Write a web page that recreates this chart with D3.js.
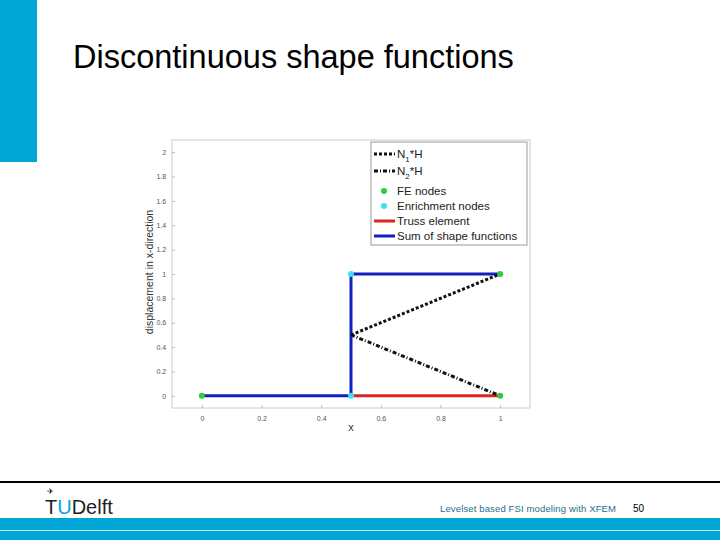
<!DOCTYPE html>
<html><head><meta charset="utf-8">
<script src="https://cdn.jsdelivr.net/npm/d3@7"></script>
<style>body{margin:0;background:#fff}svg{display:block}</style></head>
<body><svg id="c" width="720" height="540"></svg>
<script>
const xTicks=[0,0.2,0.4,0.6,0.8,1];
const yTicks=[0,0.2,0.4,0.6,0.8,1,1.2,1.4,1.6,1.8,2];
const n1X=[0.5,1], n1Y=[0.5,1];
const n2X=[0.5,1], n2Y=[0.5,0];
const feX=[0,1,1], feY=[0,0,1];
const enX=[0.5,0.5], enY=[0,1];
const trussX=[0.5,1], trussY=[0,0];
const sumX=[0,0.5,0.5,1], sumY=[0,0,1,1];
const legendLabels=["N1*H","N2*H","FE nodes","Enrichment nodes","Truss element","Sum of shape functions"];

const svg=d3.select("#c");
const F="Liberation Sans, Arial";
svg.append("rect").attr("x",0).attr("y",0).attr("width",37).attr("height",162).attr("fill","#00a6d6");
svg.append("text").attr("x",73).attr("y",68).attr("font-family",F).attr("font-size",32.5).text("Discontinuous shape functions");
// footer
svg.append("rect").attr("x",0).attr("y",481).attr("width",720).attr("height",2).attr("fill","#000");
svg.append("rect").attr("x",0).attr("y",518).attr("width",720).attr("height",22).attr("fill","#00a6d6");
svg.append("rect").attr("x",0).attr("y",530).attr("width",720).attr("height",1).attr("fill","#cdeef7");
svg.append("text").attr("x",45).attr("y",514).attr("font-family",F).attr("font-size",20).attr("fill","#222").html('T<tspan fill="#00a6d6">U</tspan>Delft');
svg.append("text").attr("x",47).attr("y",494).attr("font-size",8).text("✈");
svg.append("text").attr("x",616).attr("y",512).attr("text-anchor","end").attr("font-family",F).attr("font-size",9.5).attr("textLength",176).attr("fill","#1d6f8a").text("Levelset based FSI modeling with XFEM");
svg.append("text").attr("x",633).attr("y",512).attr("font-family",F).attr("font-size",10).text("50");

const L=172,R=530,T=140,B=408;
const x=d3.scaleLinear().domain([-0.1,1.1]).range([L,R]);
const y=d3.scaleLinear().domain([-0.1,2.1]).range([B,T]);
svg.append("rect").attr("x",L).attr("y",T).attr("width",R-L).attr("height",B-T).attr("fill","none").attr("stroke","#ccc");
const gx=svg.append("g").attr("transform",`translate(0,${B})`).call(d3.axisBottom(x).tickValues(xTicks).tickSize(-3).tickFormat(d3.format("")));
const gy=svg.append("g").attr("transform",`translate(${L},0)`).call(d3.axisLeft(y).tickValues(yTicks).tickSize(-3).tickFormat(d3.format("")));
[gx,gy].forEach(g=>{g.select(".domain").remove();g.selectAll("line").attr("stroke","#bbb");g.selectAll("text").attr("font-size",7).attr("fill","#555").attr("font-family",F);});
gx.selectAll("text").attr("dy","1.4em");
gy.selectAll("text").attr("dx","-0.4em");
svg.append("text").attr("x",(L+R)/2).attr("y",431).attr("text-anchor","middle").attr("font-size",11).attr("font-family",F).attr("fill","#333").text("x");
svg.append("text").attr("transform",`translate(153,${(T+B)/2-2}) rotate(-90)`).attr("text-anchor","middle").attr("font-size",10.5).attr("font-family",F).attr("fill","#333").text("displacement in x-direction");

const line=(xs,ys)=>d3.line().x((d,i)=>x(xs[i])).y((d,i)=>y(ys[i]))(xs);
svg.append("path").attr("d",line(trussX,trussY)).attr("stroke","#e32020").attr("stroke-width",3).attr("fill","none");
svg.append("path").attr("d",line(sumX,sumY)).attr("stroke","#1020c0").attr("stroke-width",3).attr("fill","none");
svg.append("path").attr("d",line(n1X,n1Y)).attr("stroke","#111").attr("stroke-width",3).attr("stroke-dasharray","3,2").attr("fill","none");
svg.append("path").attr("d",line(n2X,n2Y)).attr("stroke","#111").attr("stroke-width",3).attr("stroke-dasharray","4,2,1,2").attr("fill","none");
feX.forEach((v,i)=>svg.append("circle").attr("cx",x(v)).attr("cy",y(feY[i])).attr("r",3).attr("fill","#2ecc40"));
enX.forEach((v,i)=>svg.append("circle").attr("cx",x(v)).attr("cy",y(enY[i])).attr("r",3).attr("fill","#40e0f0"));

// legend
const lg=svg.append("g");
lg.append("rect").attr("x",371).attr("y",142).attr("width",156).attr("height",103).attr("fill","#fff").attr("stroke","#999");
const rowsY=[154,171,191,206,221,236];
legendLabels.forEach((lab,i)=>{
  const ry=rowsY[i];
  if(i<2) lg.append("line").attr("x1",374).attr("x2",395).attr("y1",ry).attr("y2",ry).attr("stroke","#111").attr("stroke-width",3).attr("stroke-dasharray",i==0?"3,2":"4,2,1,2");
  else if(i<4) lg.append("circle").attr("cx",384).attr("cy",ry).attr("r",3).attr("fill",i==2?"#2ecc40":"#40e0f0");
  else lg.append("line").attr("x1",374).attr("x2",395).attr("y1",ry).attr("y2",ry).attr("stroke",i==4?"#e32020":"#1020c0").attr("stroke-width",3);
  const t=lg.append("text").attr("x",397).attr("y",ry+4).attr("font-size",11.5).attr("font-family",F).attr("fill","#222");
  if(i<2){t.append("tspan").text("N");t.append("tspan").attr("font-size",8).attr("dy",4).text(i+1);t.append("tspan").attr("dy",-4).text("*H");}
  else t.text(lab);
});
</script></body></html>
